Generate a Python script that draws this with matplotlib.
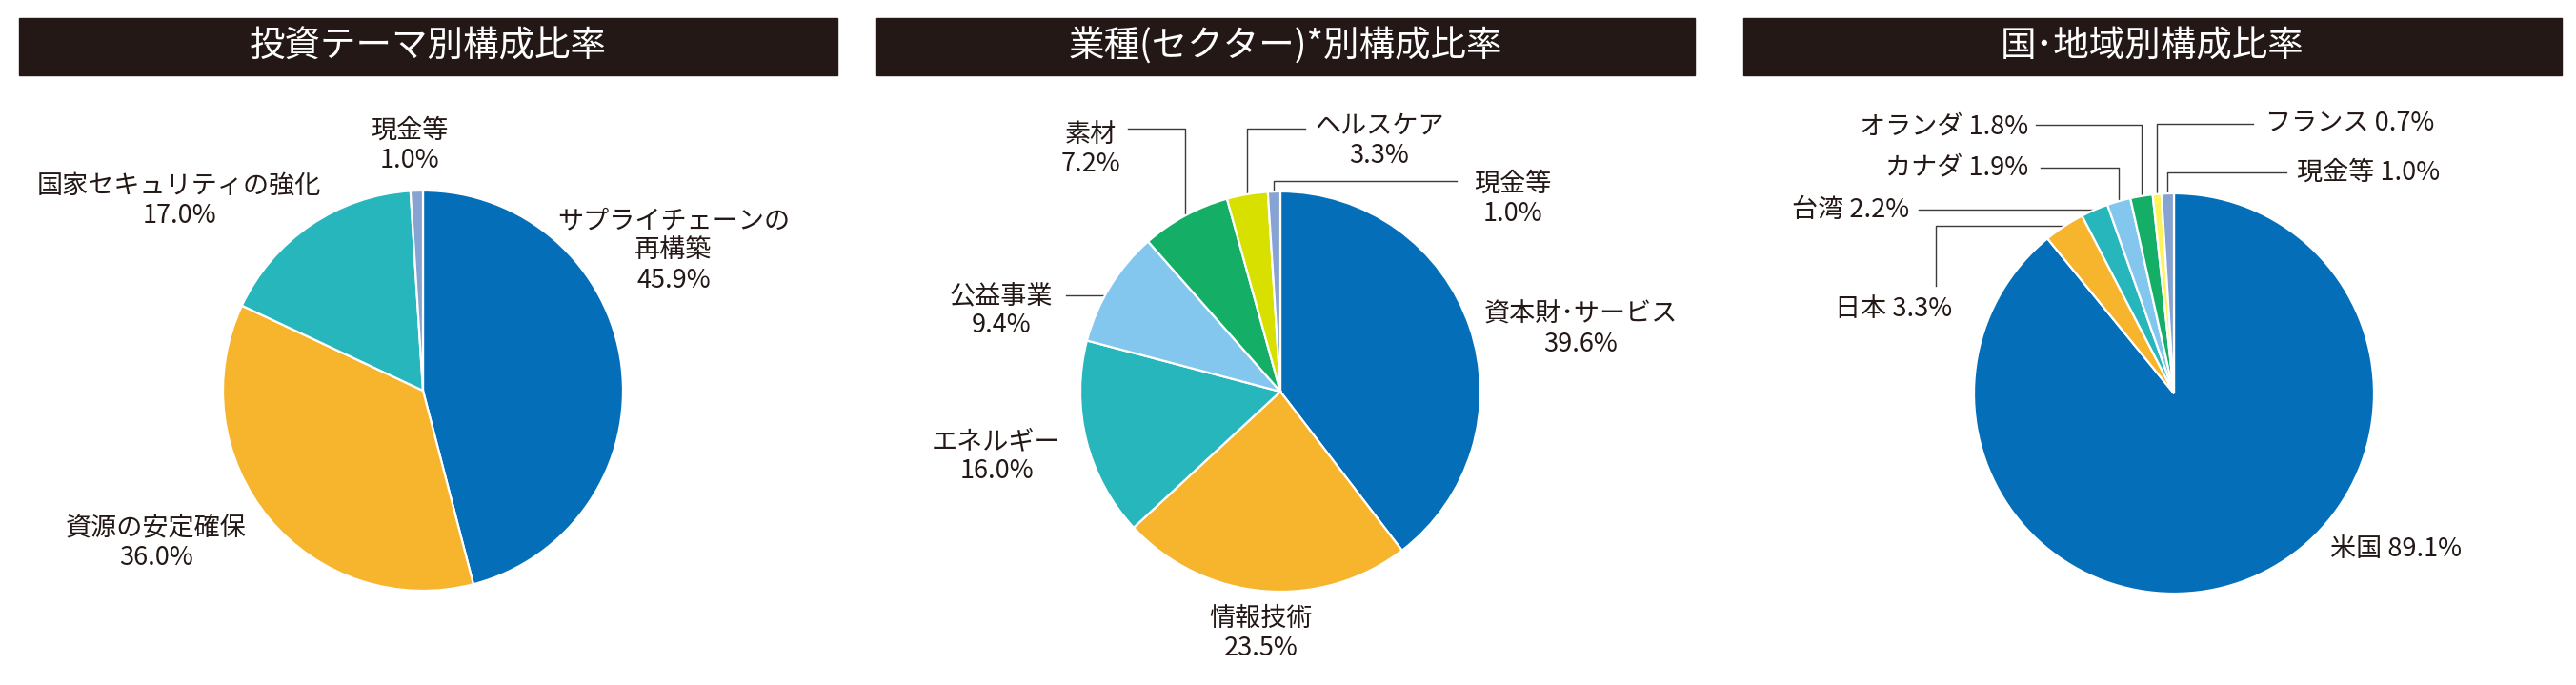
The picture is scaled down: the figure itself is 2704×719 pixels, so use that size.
import numpy as np
import matplotlib
matplotlib.use("Agg")
from matplotlib import pyplot as plt

plt.rcParams['font.family'] = ['Noto Sans CJK JP', 'DejaVu Sans']

W, H = 2704, 719
INK = '#231815'

# --- data ---------------------------------------------------------------
theme_titles = '投資テーマ別構成比率'
theme_labels = ['サプライチェーンの\n再構築', '資源の安定確保', '国家セキュリティの強化', '現金等']
theme_values = [45.9, 36.0, 17.0, 1.0]

sector_titles = '業種(セクター)*別構成比率'
sector_labels = ['資本財･サービス', '情報技術', 'エネルギー', '公益事業', '素材', 'ヘルスケア', '現金等']
sector_values = [39.6, 23.5, 16.0, 9.4, 7.2, 3.3, 1.0]

country_titles = '国･地域別構成比率'
country_labels = ['米国', '日本', '台湾', 'カナダ', 'オランダ', 'フランス', '現金等']
country_values = [89.1, 3.3, 2.2, 1.9, 1.8, 0.7, 1.0]

# --- styles / layout (pixel coords, y from top) -------------------------
theme_colors = ['#046EB8', '#F7B52D', '#27B6BC', '#86A3D2']
sector_colors = ['#046EB8', '#F7B52D', '#27B6BC', '#84C7EE', '#15AE67', '#D8E000', '#86A3D2']
country_colors = ['#046EB8', '#F7B52D', '#27B6BC', '#84C7EE', '#15AE67', '#FFF35B', '#86A3D2']

R = 210
panels = [
    dict(title=theme_titles, labels=theme_labels, values=theme_values, colors=theme_colors,
         bar=(20, 879), center=(444, 410), inline=False,
         text=[(707, 263, 'center'), (164, 570, 'center'), (188, 211, 'center'), (430, 153, 'center')],
         leaders={}),
    dict(title=sector_titles, labels=sector_labels, values=sector_values, colors=sector_colors,
         bar=(920, 1779), center=(1344, 411), inline=False,
         text=[(1659, 346, 'center'), (1324, 665, 'center'), (1046, 479, 'center'), (1051, 326, 'center'),
               (1145, 157, 'center'), (1448, 148, 'center'), (1588, 209, 'center')],
         leaders={3: ('h', 1119, 310), 4: ('hv', 1184, 135), 5: ('hv', 1370, 135), 6: ('hv', 1529, 190)}),
    dict(title=country_titles, labels=country_labels, values=country_values, colors=country_colors,
         bar=(1830, 2689), center=(2282, 413), inline=True,
         text=[(2446, 576, 'left'), (2049, 324, 'right'), (2004, 220, 'right'), (2129, 176, 'right'),
               (2129, 133, 'right'), (2378, 130, 'left'), (2411, 181, 'left')],
         leaders={1: ('vh', 2032, 300), 2: ('h', 2014, 220), 3: ('hv', 2142, 176), 4: ('hv', 2137, 131),
                  5: ('hv', 2365, 130), 6: ('hv', 2400, 181)}),
]

fig = plt.figure(figsize=(W / 100, H / 100), dpi=100)
ax = fig.add_axes([0, 0, 1, 1])


def Y(y):
    return H - y


for p in panels:
    # title bar
    x0, x1 = p['bar']
    ax.add_patch(plt.Rectangle((x0, Y(79)), x1 - x0, 60, color=INK, zorder=1))
    ax.text((x0 + x1) / 2, Y(49), p['title'], color='white', fontsize=27,
            ha='center', va='center', zorder=2)

    cx, cy = p['center']
    wedges, _ = ax.pie(p['values'], colors=p['colors'], startangle=90, counterclock=False,
                       center=(cx, Y(cy)), radius=R, frame=True,
                       wedgeprops=dict(edgecolor='white', linewidth=1.6))

    for i, (lab, val) in enumerate(zip(p['labels'], p['values'])):
        tx, ty, ha = p['text'][i]
        sep = ' ' if p['inline'] else '\n'
        ax.text(tx, Y(ty), f'{lab}{sep}{val:.1f}%', fontsize=19.5, color=INK,
                ha=ha, va='center', ma='center', linespacing=1.2, zorder=3)

        if i in p['leaders']:
            kind, sx, sy = p['leaders'][i]
            w = wedges[i]
            mid = np.deg2rad((w.theta1 + w.theta2) / 2)
            ex, ey = cx + R * np.cos(mid), cy - R * np.sin(mid)
            if kind == 'hv':
                xs, ys = [sx, ex, ex], [sy, sy, ey]
            elif kind == 'vh':
                xs, ys = [sx, sx, ex], [sy, ey, ey]
            else:
                edge = cx - np.sqrt(R ** 2 - (sy - cy) ** 2)
                xs, ys = [sx, edge], [sy, sy]
            ax.plot(xs, [Y(v) for v in ys], color='#3E3A39', lw=1.0, zorder=0.5)

ax.set_xlim(0, W)
ax.set_ylim(0, H)
ax.set_aspect('equal')
ax.axis('off')

fig.savefig('out.png', dpi=100, facecolor='white')
